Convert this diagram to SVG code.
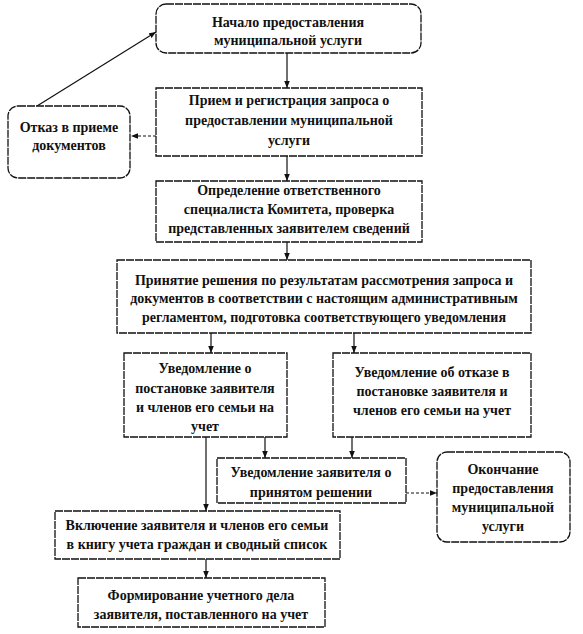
<svg xmlns="http://www.w3.org/2000/svg" width="583" height="634" viewBox="0 0 583 634">
<style>
.box{fill:#fff;stroke:#111;stroke-width:1.3;stroke-dasharray:8 1}
.t{font-family:"Liberation Serif","Times New Roman",serif;font-size:14px;font-weight:bold;fill:#111;text-anchor:middle}
.c{fill:none;stroke:#111;stroke-width:1.2}
.d{stroke-dasharray:3 2}
</style>
<defs>
<marker id="ah" viewBox="0 0 10 10" refX="10" refY="5" markerWidth="7" markerHeight="7" orient="auto" markerUnits="userSpaceOnUse">
<path d="M0,1 L10,5 L0,9 z" fill="#111"/>
</marker>
</defs>
<rect width="583" height="634" fill="#fff"/>
<g id="connectors">
<line class="c" x1="287" y1="53" x2="287" y2="88" marker-end="url(#ah)"/>
<line class="c d" x1="156" y1="136" x2="131" y2="136" marker-end="url(#ah)"/>
<line class="c" x1="37" y1="106" x2="156" y2="32" marker-end="url(#ah)"/>
<line class="c" x1="287" y1="156" x2="287" y2="181" marker-end="url(#ah)"/>
<line class="c" x1="287" y1="242" x2="287" y2="260" marker-end="url(#ah)"/>
<line class="c" x1="211" y1="333" x2="211" y2="353" marker-end="url(#ah)"/>
<line class="c" x1="354" y1="333" x2="354" y2="353" marker-end="url(#ah)"/>
<line class="c" x1="206" y1="437" x2="206" y2="511" marker-end="url(#ah)"/>
<line class="c" x1="265" y1="437" x2="265" y2="458" marker-end="url(#ah)"/>
<line class="c" x1="352" y1="437" x2="352" y2="458" marker-end="url(#ah)"/>
<line class="c d" x1="406" y1="493" x2="437" y2="493" marker-end="url(#ah)"/>
<line class="c" x1="206" y1="559" x2="206" y2="578" marker-end="url(#ah)"/>
</g>
<g id="n1">
<rect class="box" x="156" y="4" width="265" height="49" rx="10"/>
<text class="t" x="288" y="27">Начало предоставления</text>
<text class="t" x="288" y="45">муниципальной услуги</text>
</g>
<g id="n2">
<rect class="box" x="156" y="88" width="266" height="68"/>
<text class="t" x="289" y="105">Прием и регистрация запроса о</text>
<text class="t" x="289" y="125">предоставлении муниципальной</text>
<text class="t" x="289" y="145">услуги</text>
</g>
<g id="n_otkaz">
<rect class="box" x="8" y="106" width="122" height="72" rx="10"/>
<text class="t" x="69" y="132">Отказ в приеме</text>
<text class="t" x="69" y="150">документов</text>
</g>
<g id="n3">
<rect class="box" x="156" y="181" width="266" height="61"/>
<text class="t" x="289" y="195">Определение ответственного</text>
<text class="t" x="289" y="214">специалиста Комитета, проверка</text>
<text class="t" x="289" y="233">представленных заявителем сведений</text>
</g>
<g id="n4">
<rect class="box" x="117" y="260" width="414" height="73"/>
<text class="t" x="324" y="285">Принятие решения по результатам рассмотрения запроса и</text>
<text class="t" x="324" y="303">документов в соответствии с настоящим административным</text>
<text class="t" x="324" y="322">регламентом, подготовка соответствующего уведомления</text>
</g>
<g id="n5">
<rect class="box" x="124" y="353" width="163" height="84"/>
<text class="t" x="205" y="373">Уведомление о</text>
<text class="t" x="205" y="393">постановке заявителя</text>
<text class="t" x="205" y="412">и членов его семьи на</text>
<text class="t" x="205" y="431">учет</text>
</g>
<g id="n6">
<rect class="box" x="333" y="353" width="198" height="84"/>
<text class="t" x="432" y="377">Уведомление об отказе в</text>
<text class="t" x="432" y="396">постановке заявителя и</text>
<text class="t" x="432" y="415">членов его семьи на учет</text>
</g>
<g id="n7">
<rect class="box" x="217" y="458" width="189" height="45"/>
<text class="t" x="311" y="477">Уведомление заявителя о</text>
<text class="t" x="311" y="497">принятом решении</text>
</g>
<g id="n8">
<rect class="box" x="437" y="452" width="133" height="90" rx="10"/>
<text class="t" x="503" y="474">Окончание</text>
<text class="t" x="503" y="493">предоставления</text>
<text class="t" x="503" y="512">муниципальной</text>
<text class="t" x="503" y="531">услуги</text>
</g>
<g id="n9">
<rect class="box" x="55" y="511" width="285" height="48"/>
<text class="t" x="197" y="530">Включение заявителя и членов его семьи</text>
<text class="t" x="197" y="549">в книгу учета граждан и сводный список</text>
</g>
<g id="n10">
<rect class="box" x="78" y="578" width="247" height="49"/>
<text class="t" x="201" y="600">Формирование учетного дела</text>
<text class="t" x="201" y="619">заявителя, поставленного на учет</text>
</g>
</svg>
